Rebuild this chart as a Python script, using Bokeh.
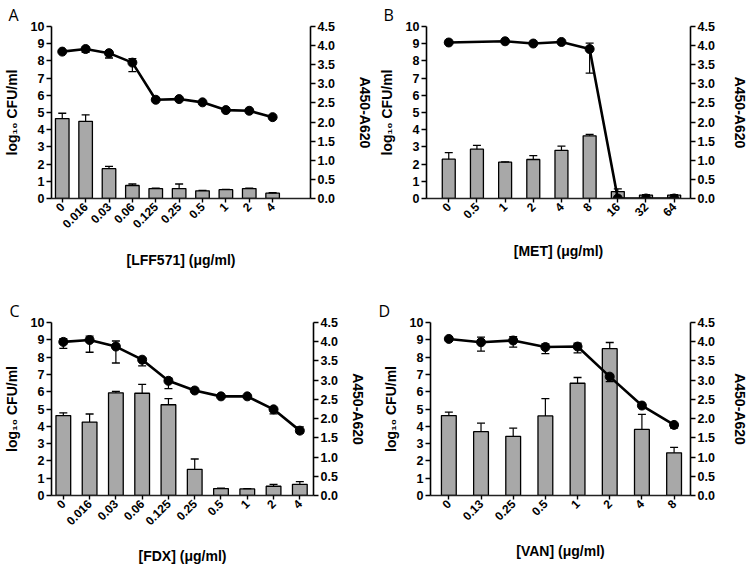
import math
from bokeh.plotting import figure
from bokeh.models import Range1d, LinearAxis, FixedTicker, PrintfTickFormatter
from bokeh.layouts import column, row
from bokeh.embed import file_html
from bokeh.resources import INLINE

# ---------------- data ----------------
A_conc = ["0", "0.016", "0.03", "0.06", "0.125", "0.25", "0.5", "1", "2", "4"]
A_cfu = [8.54, 8.69, 8.45, 7.90, 5.74, 5.78, 5.59, 5.14, 5.10, 4.73]
A_cfu_lo = [0.05, 0.19, 0.28, 0.52, 0.0, 0.0, 0.0, 0.0, 0.0, 0.0]
A_cfu_hi = [0.05, 0.10, 0.10, 0.23, 0.0, 0.0, 0.0, 0.0, 0.0, 0.0]
A_abs = [2.09, 2.02, 0.78, 0.34, 0.26, 0.26, 0.20, 0.23, 0.26, 0.14]
A_abs_err = [0.14, 0.17, 0.06, 0.04, 0.01, 0.12, 0.01, 0.01, 0.01, 0.01]

B_conc = ["0", "0.5", "1", "2", "4", "8", "16", "32", "64"]
B_cfu = [9.07, None, 9.14, 9.01, 9.10, 8.69, 0.0, 0.0, 0.0]
B_cfu_lo = [0.0, 0.0, 0.0, 0.0, 0.0, 1.40, 0.0, 0.0, 0.0]
B_cfu_hi = [0.0, 0.0, 0.0, 0.0, 0.0, 0.34, 0.0, 0.0, 0.0]
B_abs = [1.03, 1.29, 0.95, 1.02, 1.26, 1.64, 0.18, 0.09, 0.09]
B_abs_err = [0.17, 0.10, 0.01, 0.10, 0.11, 0.04, 0.07, 0.01, 0.01]

C_conc = ["0", "0.016", "0.03", "0.06", "0.125", "0.25", "0.5", "1", "2", "4"]
C_cfu = [8.88, 8.99, 8.61, 7.85, 6.63, 6.07, 5.73, 5.73, 4.98, 3.75]
C_cfu_lo = [0.38, 0.71, 0.95, 0.36, 0.45, 0.0, 0.0, 0.0, 0.26, 0.15]
C_cfu_hi = [0.18, 0.22, 0.32, 0.09, 0.15, 0.0, 0.0, 0.0, 0.05, 0.22]
C_abs = [2.08, 1.91, 2.67, 2.66, 2.36, 0.68, 0.18, 0.17, 0.24, 0.29]
C_abs_err = [0.07, 0.21, 0.04, 0.23, 0.16, 0.27, 0.01, 0.01, 0.05, 0.07]

D_conc = ["0", "0.13", "0.25", "0.5", "1", "2", "4", "8"]
D_cfu = [9.05, 8.86, 8.96, 8.58, 8.61, 6.87, 5.20, 4.08]
D_cfu_lo = [0.0, 0.51, 0.38, 0.38, 0.37, 0.29, 0.0, 0.18]
D_cfu_hi = [0.0, 0.29, 0.22, 0.19, 0.19, 0.10, 0.0, 0.05]
D_abs = [2.08, 1.66, 1.54, 2.07, 2.92, 3.82, 1.72, 1.11]
D_abs_err = [0.09, 0.22, 0.21, 0.45, 0.15, 0.16, 0.39, 0.14]

left_ticks = [0, 1, 2, 3, 4, 5, 6, 7, 8, 9, 10]
right_ticks = [0.0, 0.5, 1.0, 1.5, 2.0, 2.5, 3.0, 3.5, 4.0, 4.5]

FONT = "Liberation Sans"
BAR_FILL = "#a8a8a8"


def panel(letter, drug, conc, cfu, cfu_lo, cfu_hi, ab, ab_err, xpad, bar_w,
          width, height, mb_left, mb_right, mb_top, mb_bottom, r_standoff,
          title_standoff, x_standoff):
    n = len(conc)
    xs = list(range(n))
    x0 = -xpad[0]
    p = figure(width=width, height=height, output_backend="svg", toolbar_location=None,
               x_range=Range1d(x0, n - 1 + xpad[1]), y_range=Range1d(0, 10),
               min_border_left=mb_left, min_border_right=mb_right,
               min_border_top=mb_top, min_border_bottom=mb_bottom,
               x_axis_location="below", y_axis_location="left")
    p.extra_y_ranges = {"abs": Range1d(0, 4.5)}
    p.grid.visible = False
    p.outline_line_color = None
    p.background_fill_color = "white"
    p.border_fill_color = "white"

    # panel letter
    p.title.text = letter
    p.title.align = "left"
    p.title.offset = -(mb_left - 3)
    p.title.standoff = title_standoff
    p.title.text_font = "Open Sans"
    p.title.text_font_style = "normal"
    p.title.text_font_size = "16px"
    p.title.text_color = "black"

    # right axis
    ra = LinearAxis(y_range_name="abs", axis_label="A450-A620")
    p.add_layout(ra, "right")

    for ax in [p.yaxis[0], ra]:
        ax.axis_line_width = 1.6
        ax.axis_line_color = "black"
        ax.major_tick_line_width = 1.4
        ax.major_tick_line_color = "black"
        ax.major_tick_out = 5
        ax.major_tick_in = 0
        ax.minor_tick_line_color = None
        ax.major_label_text_font = FONT
        ax.major_label_text_font_style = "bold"
        ax.major_label_text_font_size = "12.5px"
        ax.major_label_text_color = "black"
        ax.major_label_standoff = 2
        ax.axis_label_text_font = FONT
        ax.axis_label_text_font_style = "bold"
        ax.axis_label_text_font_size = "14px"
        ax.axis_label_text_color = "black"
        ax.axis_label_standoff = 8
    p.yaxis[0].ticker = FixedTicker(ticks=left_ticks)
    p.yaxis[0].axis_label = "log\u2081\u2080 CFU/ml"
    ra.ticker = FixedTicker(ticks=right_ticks)
    ra.formatter = PrintfTickFormatter(format="%.1f")
    ra.axis_label_standoff = r_standoff

    xa = p.xaxis[0]
    xa.ticker = FixedTicker(ticks=xs)
    xa.major_label_overrides = {i: c for i, c in enumerate(conc)}
    xa.major_label_orientation = math.pi / 4
    xa.axis_line_width = 1.4
    xa.axis_line_color = "#222222"
    xa.major_tick_line_width = 1.4
    xa.major_tick_out = 4
    xa.major_tick_in = 0
    xa.minor_tick_line_color = None
    xa.major_label_text_font = FONT
    xa.major_label_text_font_style = "bold"
    xa.major_label_text_font_size = "12px"
    xa.major_label_text_color = "black"
    xa.major_label_standoff = 2
    xa.axis_label = "[%s] (\u03bcg/ml)" % drug
    xa.axis_label_text_font = FONT
    xa.axis_label_text_font_style = "bold"
    xa.axis_label_text_font_size = "14px"
    xa.axis_label_text_color = "black"
    xa.axis_label_standoff = x_standoff

    # bars (A450-A620, right axis)
    p.vbar(x=xs, top=ab, width=bar_w, bottom=0, y_range_name="abs",
           fill_color=BAR_FILL, line_color="black", line_width=1.3)
    tops = [a + e for a, e in zip(ab, ab_err)]
    p.segment(x0=xs, y0=ab, x1=xs, y1=tops, y_range_name="abs",
              line_color="black", line_width=1.2)
    p.scatter(x=xs, y=tops, marker="dash", size=8, y_range_name="abs",
              line_color="black", line_width=1.3)

    # line (log10 CFU/ml, left axis)
    lx = [x for x, v in zip(xs, cfu) if v is not None]
    ly = [v for v in cfu if v is not None]
    llo = [v - lo for v, lo in zip(cfu, cfu_lo) if v is not None]
    lhi = [v + hi for v, hi in zip(cfu, cfu_hi) if v is not None]
    p.segment(x0=lx, y0=llo, x1=lx, y1=lhi, line_color="black", line_width=1.2)
    p.scatter(x=lx, y=llo, marker="dash", size=8, line_color="black", line_width=1.3)
    p.scatter(x=lx, y=lhi, marker="dash", size=8, line_color="black", line_width=1.3)
    p.line(x=lx, y=ly, line_color="black", line_width=2.6)
    p.scatter(x=lx, y=ly, marker="circle", size=9, fill_color="black", line_color="black")
    return p


pA = panel("A", "LFF571", A_conc, A_cfu, A_cfu_lo, A_cfu_hi, A_abs, A_abs_err,
           (0.46, 1.62), 0.58, 375, 294, 46, 63, 20, 96, 19, 2, 17)
pB = panel("B", "MET", B_conc, B_cfu, B_cfu_lo, B_cfu_hi, B_abs, B_abs_err,
           (0.79, 0.58), 0.46, 375, 294, 46, 55, 20, 96, 14, 2, 17)
pC = panel("C", "FDX", C_conc, C_cfu, C_cfu_lo, C_cfu_hi, C_abs, C_abs_err,
           (0.45, 0.52), 0.56, 375, 273, 45, 62, 25, 70, 9, 2, 16)
pD = panel("D", "VAN", D_conc, D_cfu, D_cfu_lo, D_cfu_hi, D_abs, D_abs_err,
           (0.57, 0.51), 0.46, 375, 273, 55, 52, 28, 70, 14, 2, 16)

layout = column(row(pA, pB), row(pC, pD))
open("out.html", "w").write(file_html(layout, INLINE))
